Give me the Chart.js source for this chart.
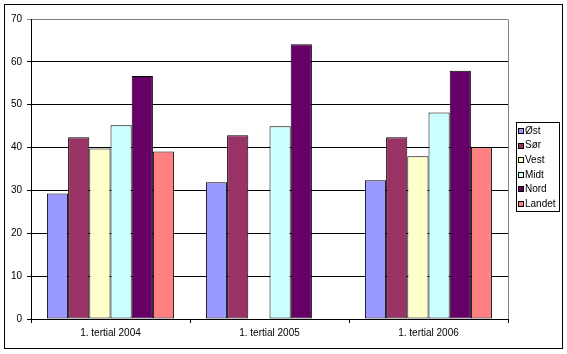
<!DOCTYPE html>
<html>
<head>
<meta charset="utf-8">
<script src="https://cdn.jsdelivr.net/npm/chart.js@4/dist/chart.umd.min.js"></script>
<style>
  html, body { margin: 0; padding: 0; background: #fff; }
  canvas { display: block; }
</style>
</head>
<body>
<canvas id="chart" width="567" height="354"></canvas>
<script>
var categories = ['1. tertial 2004', '1. tertial 2005', '1. tertial 2006'];
var seriesNames = ['Øst', 'Sør', 'Vest', 'Midt', 'Nord', 'Landet'];
var ost = [29.3, 31.9, 32.4];
var sor = [42.4, 42.9, 42.4];
var vest = [39.8, null, 38.0];
var midt = [45.2, 45.0, 48.2];
var nord = [56.7, 64.1, 57.9];
var landet = [39.1, null, 40.1];
var yTicks = [0, 10, 20, 30, 40, 50, 60, 70];

var colors = ['#9999FF', '#993366', '#FFFFCC', '#CCFFFF', '#660066', '#FF8080'];
var values = [ost, sor, vest, midt, nord, landet];
var FONT = 'Arial, "Liberation Sans", sans-serif';

var datasets = [];
for (var i = 0; i < seriesNames.length; i++) {
    datasets.push({
        label: seriesNames[i],
        data: values[i],
        backgroundColor: colors[i],
        borderColor: '#000',
        borderWidth: 1,
        borderSkipped: false,
        categoryPercentage: 0.8,
        barPercentage: 1.0
    });
}

// frame, plot border and legend box like the old Excel chart
var framePlugin = {
    id: 'frame',
    afterDraw: function (chart) {
        var ctx = chart.ctx;
        var area = chart.chartArea;
        ctx.save();
        ctx.strokeStyle = '#000';
        ctx.lineWidth = 1;
        ctx.strokeRect(4.5, 4.5, 558, 344);

        ctx.strokeStyle = '#808080';
        ctx.beginPath();
        ctx.moveTo(Math.round(area.right) + 0.5, Math.round(area.top) + 0.5);
        ctx.lineTo(Math.round(area.right) + 0.5, Math.round(area.bottom));
        ctx.stroke();

        // legend
        ctx.strokeStyle = '#000';
        ctx.strokeRect(516.5, 122.5, 43, 89);
        ctx.font = '10px ' + FONT;
        ctx.textBaseline = 'middle';
        ctx.textAlign = 'left';
        var ds = chart.data.datasets;
        for (var j = 0; j < ds.length; j++) {
            var y = 131 + j * 14.6;
            ctx.fillStyle = ds[j].backgroundColor;
            ctx.fillRect(518.5, Math.round(y) - 2.5, 5, 5);
            ctx.strokeStyle = '#000';
            ctx.strokeRect(518.5, Math.round(y) - 2.5, 5, 5);
            ctx.fillStyle = '#000';
            ctx.fillText(ds[j].label, 525, y);
        }
        ctx.restore();
    }
};

new Chart(document.getElementById('chart'), {
    type: 'bar',
    data: { labels: categories, datasets: datasets },
    plugins: [framePlugin],
    options: {
        responsive: false,
        animation: false,
        layout: { padding: { top: 19, right: 59, bottom: 0, left: 0 } },
        plugins: {
            legend: { display: false },
            tooltip: { enabled: false }
        },
        scales: {
            x: {
                afterFit: function (scale) { scale.height = 35; },
                border: { color: '#000', width: 1 },
                grid: {
                    offset: true,
                    drawOnChartArea: false,
                    drawTicks: true,
                    tickLength: 4,
                    color: '#000'
                },
                ticks: { color: '#000', font: { family: FONT, size: 10 }, padding: 4, maxRotation: 0 }
            },
            y: {
                min: 0,
                max: 70,
                afterFit: function (scale) { scale.width = 31; },
                afterBuildTicks: function (scale) {
                    scale.ticks = yTicks.map(function (v) { return { value: v }; });
                },
                border: { color: '#000', width: 1 },
                grid: {
                    color: function (c) { return c.tick && c.tick.value === 70 ? '#808080' : '#000'; },
                    tickLength: 4,
                    drawTicks: true
                },
                ticks: { color: '#000', font: { family: FONT, size: 10 }, padding: 5 }
            }
        }
    }
});
</script>
</body>
</html>
